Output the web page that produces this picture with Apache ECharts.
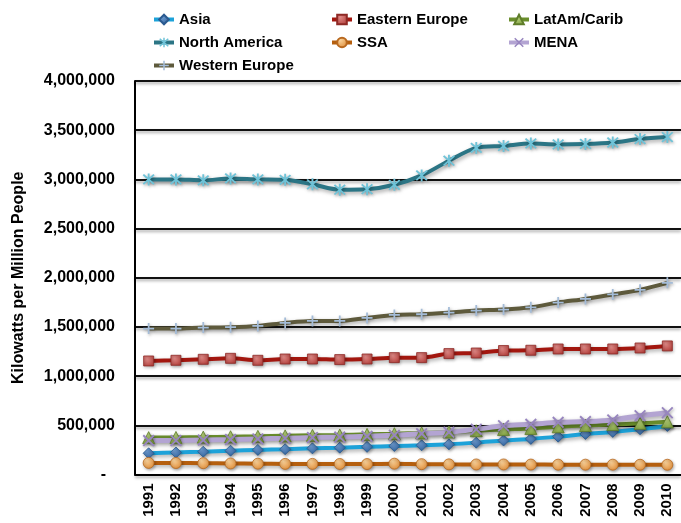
<!DOCTYPE html>
<html>
<head>
<meta charset="utf-8">
<script src="https://cdn.jsdelivr.net/npm/echarts@6/dist/echarts.min.js"></script>
<style>
  html, body { margin: 0; padding: 0; background: #fff; }
  #chart { width: 681px; height: 523px; }
</style>
</head>
<body>
<div id="chart"></div>
<script>
// Installed generating capacity per million people, by region, 1991-2010
const years = ['1991','1992','1993','1994','1995','1996','1997','1998','1999','2000',
               '2001','2002','2003','2004','2005','2006','2007','2008','2009','2010'];

const asia = [216000, 224000, 232000, 242000, 250000, 257000, 266000, 273000, 281000, 290000,
              297000, 307000, 324000, 346000, 362000, 385000, 412000, 433000, 460000, 494000];
const easternEurope = [1154000, 1161000, 1171000, 1181000, 1161000, 1174000, 1174000, 1168000, 1174000, 1188000,
                       1188000, 1229000, 1235000, 1260000, 1263000, 1276000, 1276000, 1276000, 1286000, 1307000];
const latAm = [375000, 377000, 380000, 384000, 388000, 393000, 398000, 402000, 408000, 415000,
               423000, 432000, 445000, 458000, 468000, 485000, 498000, 508000, 520000, 535000];
const northAmerica = [3000000, 3000000, 2990000, 3010000, 3000000, 2995000, 2950000, 2895000, 2900000, 2945000,
                      3040000, 3190000, 3320000, 3340000, 3365000, 3355000, 3360000, 3375000, 3410000, 3430000];
const ssa = [118000, 117000, 115000, 112000, 110000, 108000, 108000, 107000, 106000, 110000,
             105000, 103000, 102000, 102000, 101000, 100000, 100000, 100000, 99000, 99000];
const mena = [345000, 346000, 350000, 355000, 362000, 368000, 375000, 380000, 388000, 400000,
              415000, 430000, 460000, 495000, 510000, 530000, 538000, 555000, 598000, 628000];
const westernEurope = [1483000, 1483000, 1494000, 1497000, 1510000, 1541000, 1561000, 1561000, 1592000, 1622000,
                       1629000, 1646000, 1667000, 1677000, 1700000, 1748000, 1785000, 1830000, 1877000, 1948000];

const FONT = 'Liberation Sans';

// Thin-stroke marker outlines
const PLUS = 'path://M4.2,0H5.8V4.2H10V5.8H5.8V10H4.2V5.8H0V4.2H4.2Z';
const CROSS = 'path://M0,1.1L1.1,0L10,8.9L8.9,10Z M8.9,0L10,1.1L1.1,10L0,8.9Z';
const STAR = 'path://M4.3,0H5.7V10H4.3Z M0.5,1.5L1.5,0.5L9.5,8.5L8.5,9.5Z M8.5,0.5L9.5,1.5L1.5,9.5L0.5,8.5Z';

function grad(light, dark) {
  return new echarts.graphic.RadialGradient(0.35, 0.3, 0.8, [
    { offset: 0, color: light },
    { offset: 1, color: dark }
  ]);
}

function makeSeries(name, data, lineColor, symbol, symbolSize, fill, border, width) {
  return {
    name: name,
    type: 'line',
    data: data,
    smooth: 0.3,
    symbol: symbol,
    symbolSize: symbolSize,
    showAllSymbol: true,
    lineStyle: {
      color: lineColor,
      width: width || 4,
      shadowColor: 'rgba(0,0,0,0.35)',
      shadowBlur: 4,
      shadowOffsetX: 1.5,
      shadowOffsetY: 2
    },
    itemStyle: {
      color: fill,
      borderColor: border,
      borderWidth: border ? 0.8 : 0,
      shadowColor: 'rgba(0,0,0,0.3)',
      shadowBlur: 3,
      shadowOffsetX: 1,
      shadowOffsetY: 1.5
    },
    emphasis: { disabled: true }
  };
}

const series = [
  makeSeries('Asia', asia, '#1DA2D9', 'diamond', 11, grad('#6E9BD0', '#2F5F98'), '#2A5A90'),
  makeSeries('Eastern Europe', easternEurope, '#A3170F', 'rect', 10, grad('#E08A87', '#B13E3A'), '#8E2A26'),
  makeSeries('LatAm/Carib', latAm, '#6A8E2C', 'triangle', 12, grad('#B9D27E', '#7E9E3E'), '#5F7D2A'),
  makeSeries('North America', northAmerica, '#2B7585', STAR, 12, '#6FC3D8', null),
  makeSeries('SSA', ssa, '#B55F0E', 'circle', 11, grad('#FAD29A', '#DC8A36'), '#B8681E'),
  makeSeries('MENA', mena, '#B3A4D2', CROSS, 12, '#9785BF', null, 5),
  makeSeries('Western Europe', westernEurope, '#5E5A3C', PLUS, 11, '#A4BCD8', null)
];

const legendText = { fontFamily: FONT, fontWeight: 'bold', fontSize: 15, color: '#000' };
function legendCol(left, names) {
  return {
    orient: 'vertical',
    left: left,
    top: 5,
    itemWidth: 20,
    itemHeight: 12,
    itemGap: 4,
    selectedMode: true,
    textStyle: Object.assign({ lineHeight: 19 }, legendText),
    lineStyle: { width: 4, shadowBlur: 0, shadowColor: 'transparent' },
    itemStyle: { shadowBlur: 0, shadowColor: 'transparent' },
    data: names
  };
}

const chart = echarts.init(document.getElementById('chart'), null, { renderer: 'canvas' });
chart.setOption({
  animation: false,
  backgroundColor: '#ffffff',
  legend: [
    legendCol(147, ['Asia', 'North America', 'Western Europe']),
    legendCol(325, ['Eastern Europe', 'SSA']),
    legendCol(502, ['LatAm/Carib', 'MENA'])
  ],
  grid: { left: 135, top: 81, width: 548, height: 393.5, containLabel: false },
  xAxis: {
    type: 'category',
    data: years,
    boundaryGap: true,
    axisLine: { show: true, lineStyle: { color: '#000', width: 2 } },
    axisTick: { show: false },
    axisLabel: {
      rotate: 90,
      margin: 9,
      fontFamily: FONT,
      fontWeight: 'bold',
      fontSize: 15,
      color: '#000'
    }
  },
  yAxis: {
    type: 'value',
    min: 0,
    max: 4000000,
    interval: 500000,
    name: 'Kilowatts per Million People',
    nameLocation: 'middle',
    nameGap: 108,
    nameTextStyle: { fontFamily: FONT, fontWeight: 'bold', fontSize: 16, color: '#000' },
    axisLine: { show: true, lineStyle: { color: '#000', width: 2 } },
    axisTick: { show: false },
    axisLabel: {
      margin: 20,
      fontFamily: FONT,
      fontWeight: 'bold',
      fontSize: 16,
      color: '#000',
      formatter: function (v) {
        return v === 0 ? '{z|-}' : v.toLocaleString('en-US');
      },
      rich: {
        z: { fontFamily: FONT, fontWeight: 'bold', fontSize: 16, color: '#000', padding: [0, 9, 0, 0] }
      }
    },
    splitLine: {
      show: true,
      lineStyle: {
        color: '#111',
        width: 2,
        shadowColor: 'rgba(0,0,0,0.35)',
        shadowBlur: 3,
        shadowOffsetY: 2
      }
    }
  },
  series: series
});
</script>
</body>
</html>
